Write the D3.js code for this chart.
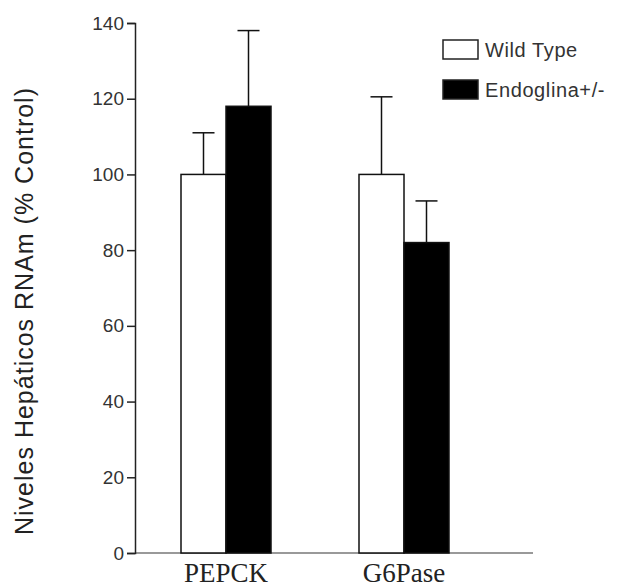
<!DOCTYPE html>
<html>
<head>
<meta charset="utf-8">
<script src="https://cdn.jsdelivr.net/npm/d3@7"></script>
<style>
body { margin: 0; background: #fff; }
</style>
</head>
<body>
<script>
var categories = ["PEPCK", "G6Pase"];
var series = ["Wild Type", "Endoglina+/-"];
var means = [[100, 118], [100, 82]];
var errors = [[11, 20], [20.5, 11]];
var yTicks = [0, 20, 40, 60, 80, 100, 120, 140];
var fills = ["#fff", "#000"];

var svg = d3.select("body").append("svg")
	.attr("width", 617)
	.attr("height", 588);

var y = d3.scaleLinear().domain([0, 140]).range([553, 23]);
var x = d3.scalePoint().domain(categories).range([226, 404]);
var xs = d3.scaleBand().domain(series).range([-45, 45]);

// x axis line
svg.append("line")
	.attr("x1", 135).attr("x2", 533)
	.attr("y1", y(0)).attr("y2", y(0))
	.attr("stroke", "#777").attr("stroke-width", 1.5);

// y axis
var yAxis = svg.append("g")
	.attr("transform", "translate(135,0)")
	.call(d3.axisLeft(y).tickValues(yTicks).tickSize(8).tickPadding(3));
yAxis.select(".domain").attr("stroke", "#222").attr("stroke-width", 1.5);
yAxis.selectAll(".tick line").attr("stroke", "#222").attr("stroke-width", 1.5);
yAxis.selectAll("text")
	.attr("font-family", "Liberation Sans, Arial, sans-serif")
	.attr("font-size", 19)
	.attr("fill", "#333");

var groups = svg.selectAll(".grp")
	.data(categories)
	.enter().append("g")
	.attr("class", "grp")
	.attr("transform", function(d) { return "translate(" + x(d) + ",0)"; });

groups.each(function(c, i) {
	var g = d3.select(this);
	series.forEach(function(s, j) {
		var cx = xs(s) + xs.bandwidth() / 2;
		// error bar
		g.append("line")
			.attr("x1", cx).attr("x2", cx)
			.attr("y1", y(means[i][j])).attr("y2", y(means[i][j] + errors[i][j]))
			.attr("stroke", "#111").attr("stroke-width", 1.5);
		g.append("line")
			.attr("x1", cx - 11).attr("x2", cx + 11)
			.attr("y1", y(means[i][j] + errors[i][j])).attr("y2", y(means[i][j] + errors[i][j]))
			.attr("stroke", "#111").attr("stroke-width", 1.5);
		g.append("rect")
			.attr("x", xs(s))
			.attr("y", y(means[i][j]))
			.attr("width", xs.bandwidth())
			.attr("height", y(0) - y(means[i][j]))
			.attr("fill", fills[j])
			.attr("stroke", "#111")
			.attr("stroke-width", 1.5);
	});
	g.append("text")
		.attr("x", 0)
		.attr("y", 582)
		.attr("text-anchor", "middle")
		.attr("font-family", "Liberation Serif, Times New Roman, serif")
		.attr("font-size", 27)
		.attr("fill", "#222")
		.text(c);
});

// y label
svg.append("text")
	.attr("transform", "translate(33,311) rotate(-90)")
	.attr("text-anchor", "middle")
	.attr("font-family", "Liberation Sans, Arial, sans-serif")
	.attr("font-size", 25)
	.attr("letter-spacing", 1)
	.attr("fill", "#222")
	.text("Niveles Hepáticos RNAm (% Control)");

// legend
var legend = svg.selectAll(".leg")
	.data(series)
	.enter().append("g")
	.attr("class", "leg")
	.attr("transform", function(d, i) { return "translate(443," + (40 + i * 40) + ")"; });
legend.append("rect")
	.attr("width", 35).attr("height", 19)
	.attr("fill", function(d, i) { return fills[i]; })
	.attr("stroke", "#222").attr("stroke-width", 1.5);
legend.append("text")
	.attr("x", 42).attr("y", 17)
	.attr("font-family", "Liberation Sans, Arial, sans-serif")
	.attr("font-size", 20)
	.attr("letter-spacing", 0.6)
	.attr("fill", "#333")
	.text(function(d) { return d; });
</script>
</body>
</html>
